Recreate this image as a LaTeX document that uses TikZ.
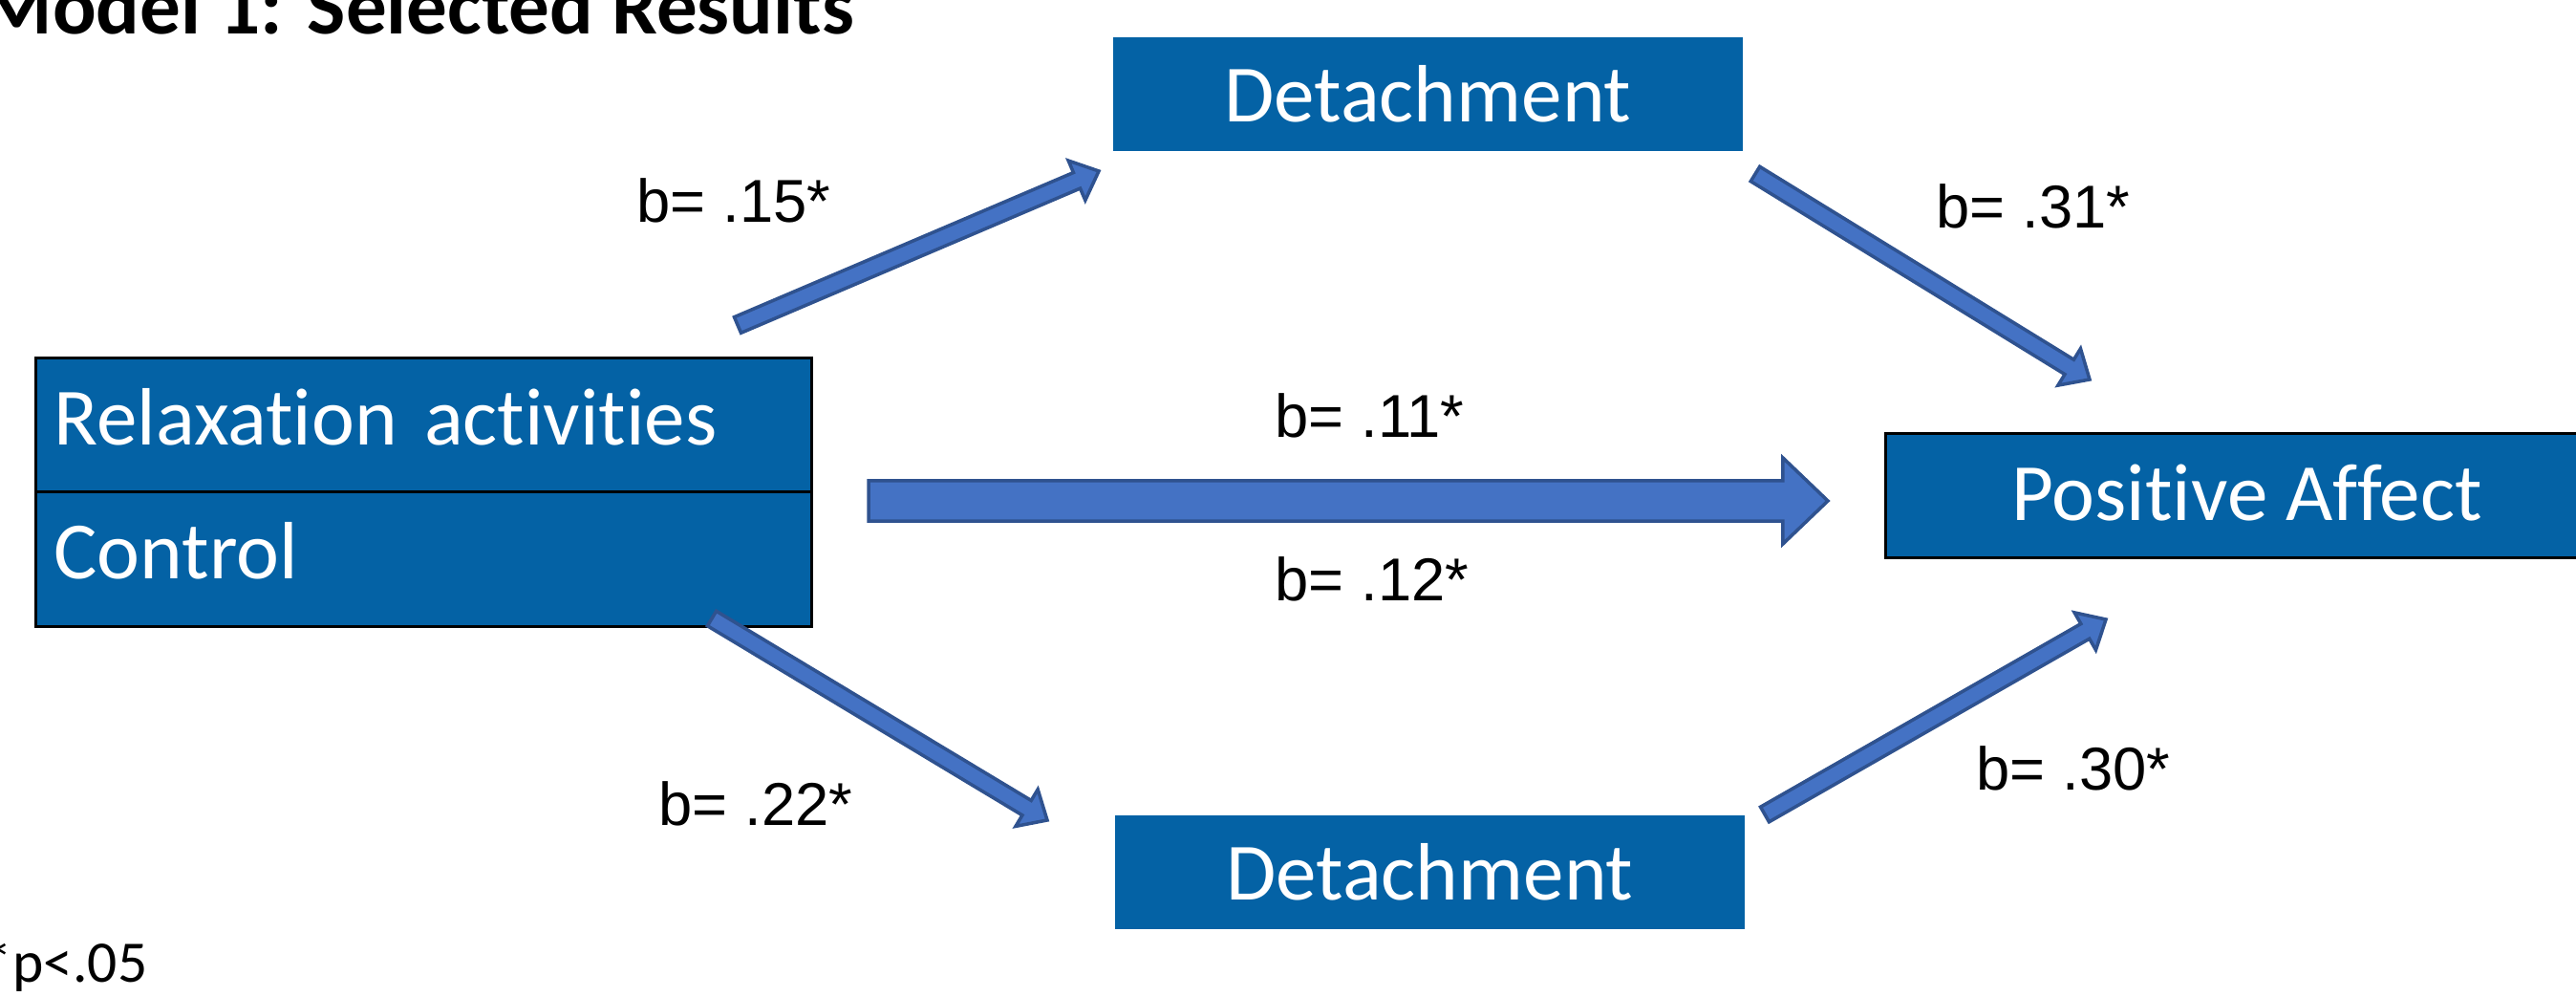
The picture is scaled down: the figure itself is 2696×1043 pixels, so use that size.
\documentclass[tikz,border=0pt]{standalone}
\usepackage{fontspec}
\setmainfont{Carlito}[Ligatures={TeX,NoCommon}]
\newfontfamily\arialf{Liberation Sans}
\usetikzlibrary{calc}
\definecolor{boxblue}{HTML}{0462A5}
\definecolor{arrfill}{HTML}{4472C4}
\definecolor{arrline}{HTML}{2F528F}
\newcommand{\blkarrow}[5]{%
  \coordinate (hb) at ($(#2)!#5!(#1)$);
  \draw[arrowshape] ($(#1)!#3!90:(#2)$) -- ($(hb)!#3!90:(#2)$) -- ($(hb)!#4!90:(#2)$) -- (#2)
    -- ($(hb)!#4!-90:(#2)$) -- ($(hb)!#3!-90:(#2)$) -- ($(#1)!#3!-90:(#2)$) -- cycle;
}
\tikzset{
  arrowshape/.style={fill=arrfill, draw=arrline, line width=1pt, line join=miter},
  bigtext/.style={font=\fontsize{24.2}{29}\selectfont},
  detbox/.style={bigtext, fill=boxblue, draw=none, text=white, inner sep=0pt,
    minimum width=6.59cm, minimum height=1.19cm, text height=0.62cm, text depth=0.03cm, anchor=north west},
  lbox/.style={bigtext, fill=boxblue, draw=black, line width=0.8pt, text=white,
    inner xsep=0.19cm, inner ysep=0pt, text width=7.74cm, align=left,
    minimum width=8.12cm, minimum height=1.40cm, text height=0.62cm, text depth=0.20cm, anchor=north west},
  pabox/.style={bigtext, fill=boxblue, draw=black, line width=0.8pt, text=white, inner sep=0pt,
    minimum width=7.56cm, minimum height=1.30cm, text height=0.62cm, text depth=0.10cm, anchor=north west},
  lab/.style={font=\arialf\fontsize{18}{22}\selectfont, anchor=base west, inner sep=0pt},
}
\begin{document}
\begin{tikzpicture}[x=0.01cm, y=-0.01cm]
\useasboundingbox (0,0) rectangle (2696,1043);
\clip (0,0) rectangle (2696,1043);
\fill[white] (0,0) rectangle (2696,1043);
% title and note
\node[anchor=base west, inner sep=0pt, font=\bfseries\fontsize{24.2}{29}\selectfont] (title) at (-20,36) {Model 1: Selected Results};
\node[anchor=base west, inner sep=0pt, font=\fontsize{17.5}{21}\selectfont] (note) at (-18,1027) {*p<.05};
% boxes
\node[detbox] (det1) at (1164,38) {Detachment};
\node[detbox] (det2) at (1166,852) {Detachment};
\node[lbox] (rel) at (36,373) {Relaxation activities};
\node[lbox, minimum height=1.41cm] (ctl) at (36,513) {Control};
\node[pabox] (pa) at (1972,452) {Positive Affect};
% arrow end points
\coordinate (a1s) at (772,340);  \coordinate (a1e) at (1150,179);
\coordinate (a2s) at (1837,182); \coordinate (a2e) at (2187,397);
\coordinate (a3s) at (1847,852); \coordinate (a3e) at (2204,648);
\coordinate (a4s) at (745,647);  \coordinate (a4e) at (1096,858);
\coordinate (a5s) at (909,524);  \coordinate (a5e) at (1913,524);
% arrows
\blkarrow{a1s}{a1e}{0.09cm}{0.225cm}{0.25cm}
\blkarrow{a2s}{a2e}{0.09cm}{0.225cm}{0.25cm}
\blkarrow{a3s}{a3e}{0.09cm}{0.225cm}{0.25cm}
\blkarrow{a4s}{a4e}{0.09cm}{0.225cm}{0.25cm}
\blkarrow{a5s}{a5e}{0.21cm}{0.45cm}{0.47cm}
% labels
\node[lab] (l15) at (666,233) {b= .15*};
\node[lab] (l31) at (2026,239) {b= .31*};
\node[lab] (l11) at (1334,458) {b= .11*};
\node[lab] (l12) at (1334,629) {b= .12*};
\node[lab] (l22) at (689,863) {b= .22*};
\node[lab] (l30) at (2068,827) {b= .30*};
\end{tikzpicture}
\end{document}
